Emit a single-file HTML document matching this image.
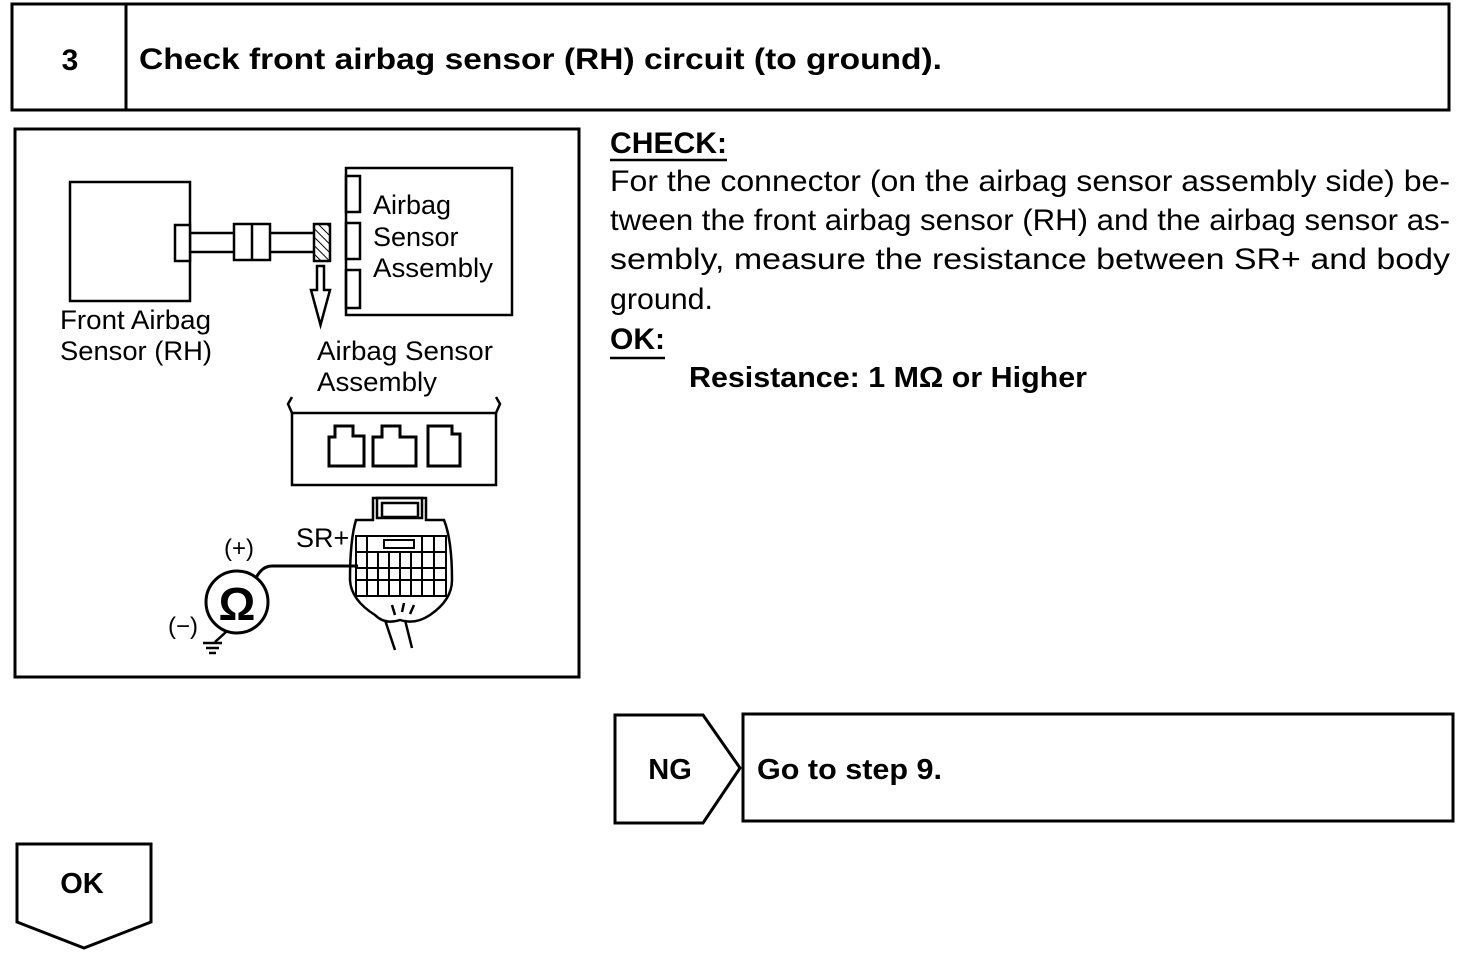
<!DOCTYPE html>
<html><head><meta charset="utf-8"><style>
html,body{margin:0;padding:0;background:#fff;}
svg{display:block;}
text{font-family:"Liberation Sans",Arial,sans-serif;fill:#000;}
.b{font-weight:bold;}
</style></head><body>
<svg width="1472" height="962" viewBox="0 0 1472 962" xmlns="http://www.w3.org/2000/svg">
<g fill="none" stroke="#000" stroke-width="3">
<rect x="12" y="4" width="1437" height="106"/>
<line x1="126" y1="4" x2="126" y2="110"/>
<rect x="15" y="129" width="564" height="548"/>
<path d="M615 715 H703 L740 768 L703 823 H615 Z"/>
<rect x="743" y="714" width="710" height="107"/>
<path d="M17 844 H151 V922 L84 948 L17 922 Z"/>
</g>
<text x="70" y="70" class="b" font-size="30" text-anchor="middle">3</text>
<text x="139" y="69" class="b" font-size="30" textLength="803" lengthAdjust="spacingAndGlyphs">Check front airbag sensor (RH) circuit (to ground).</text>
<text x="670" y="779" class="b" font-size="29" text-anchor="middle">NG</text>
<text x="757" y="779" class="b" font-size="29" textLength="185" lengthAdjust="spacingAndGlyphs">Go to step 9.</text>
<text x="82" y="893" class="b" font-size="29" text-anchor="middle">OK</text>

<text x="610" y="153" class="b" font-size="30" textLength="117" lengthAdjust="spacingAndGlyphs">CHECK:</text>
<line x1="610" y1="160" x2="727" y2="160" stroke="#000" stroke-width="2.5"/>
<g font-size="30">
<text x="610" y="191" textLength="840" lengthAdjust="spacingAndGlyphs">For the connector (on the airbag sensor assembly side) be-</text>
<text x="610" y="230" textLength="840" lengthAdjust="spacingAndGlyphs">tween the front airbag sensor (RH) and the airbag sensor as-</text>
<text x="610" y="269" textLength="840" lengthAdjust="spacingAndGlyphs">sembly, measure the resistance between SR+ and body</text>
<text x="610" y="309" textLength="103" lengthAdjust="spacingAndGlyphs">ground.</text>
</g>
<text x="610" y="349" class="b" font-size="30" textLength="55" lengthAdjust="spacingAndGlyphs">OK:</text>
<line x1="610" y1="358" x2="665" y2="358" stroke="#000" stroke-width="2.5"/>
<text x="689" y="387" class="b" font-size="29" textLength="398" lengthAdjust="spacingAndGlyphs">Resistance: 1 MΩ or Higher</text>

<defs><pattern id="h" width="6" height="6" patternUnits="userSpaceOnUse" patternTransform="rotate(-45)"><line x1="0" y1="0" x2="0" y2="6" stroke="#000" stroke-width="2"/></pattern></defs>
<g fill="none" stroke="#000" stroke-width="2.5">
<rect x="70" y="182" width="120" height="119"/>
<rect x="175" y="225" width="15" height="36" fill="#fff"/>
<line x1="190" y1="233" x2="234" y2="233"/><line x1="190" y1="252" x2="234" y2="252"/>
<rect x="234" y="224" width="36" height="36"/><line x1="252" y1="224" x2="252" y2="260"/>
<line x1="270" y1="233" x2="314" y2="233"/><line x1="270" y1="252" x2="314" y2="252"/>
<rect x="314" y="224" width="16" height="37" fill="url(#h)"/>
<path d="M317 266 H324 V290 H330 L320.5 325 L311 290 H317 Z"/>
<rect x="346" y="168" width="166" height="147"/>
<rect x="346" y="176" width="14" height="36"/>
<rect x="346" y="223" width="14" height="36"/>
<rect x="346" y="270" width="14" height="38"/>
<rect x="292" y="413" width="204" height="72"/>
<path d="M292 413 L288 404 L292 397 M496 413 L500 404 L496 397"/>
<path d="M329 466 V437 H335 V426 H353 V436 H364 V466 Z" stroke-width="3"/>
<path d="M373 466 V437 H382 V426 H400 V437 H416 V466 Z" stroke-width="3"/>
<path d="M428 466 V438 V426 H452 V434 H460 V466 Z" stroke-width="3"/>
<path d="M356 520 H373 V498 H426 V520 H444 Q452 540 452 580 Q452 600 430 615 Q415 625 400 620 Q385 625 375 615 Q351 600 350 580 Q350 540 356 520 Z"/>
<rect x="377" y="498" width="45" height="20"/>
<rect x="382" y="503" width="36" height="14"/>
<g stroke-width="2">
<rect x="356" y="536" width="90" height="60"/>
<line x1="356" y1="552" x2="446" y2="552"/><line x1="356" y1="568" x2="446" y2="568"/><line x1="356" y1="580" x2="446" y2="580"/>
<line x1="367" y1="536" x2="367" y2="596"/><line x1="378" y1="552" x2="378" y2="596"/><line x1="389" y1="552" x2="389" y2="596"/><line x1="400" y1="552" x2="400" y2="596"/><line x1="411" y1="552" x2="411" y2="596"/><line x1="422" y1="536" x2="422" y2="596"/><line x1="434" y1="536" x2="434" y2="596"/>
<rect x="384" y="540" width="30" height="8"/>
</g>
<path d="M385 620 L395 650 M405 620 L412 648 M395 615 L392 605 M402 612 L404 603 M410 614 L414 605"/>
<circle cx="237" cy="602" r="31" stroke-width="3"/>
<path d="M256 578 Q262 566 272 566 H358" stroke-width="3"/>
<path d="M226 632 L215 642 M203 643 H222 M206 648 H219 M209 653 H216"/>
</g>
<g font-size="27">
<text x="373" y="214">Airbag</text>
<text x="373" y="246">Sensor</text>
<text x="373" y="277" textLength="120" lengthAdjust="spacingAndGlyphs">Assembly</text>
<text x="60" y="329" textLength="151" lengthAdjust="spacingAndGlyphs">Front Airbag</text>
<text x="60" y="360" textLength="152" lengthAdjust="spacingAndGlyphs">Sensor (RH)</text>
<text x="317" y="360" textLength="176" lengthAdjust="spacingAndGlyphs">Airbag Sensor</text>
<text x="317" y="391" textLength="120" lengthAdjust="spacingAndGlyphs">Assembly</text>
<text x="296" y="547">SR+</text>
<text x="224" y="556" font-family="Liberation Serif" font-size="24">(+)</text>
<text x="168" y="634" font-family="Liberation Serif" font-size="24">(−)</text>
</g>
<text x="237" y="620" font-size="46" font-weight="bold" text-anchor="middle" font-family="Liberation Serif">Ω</text>
</svg>
</body></html>
